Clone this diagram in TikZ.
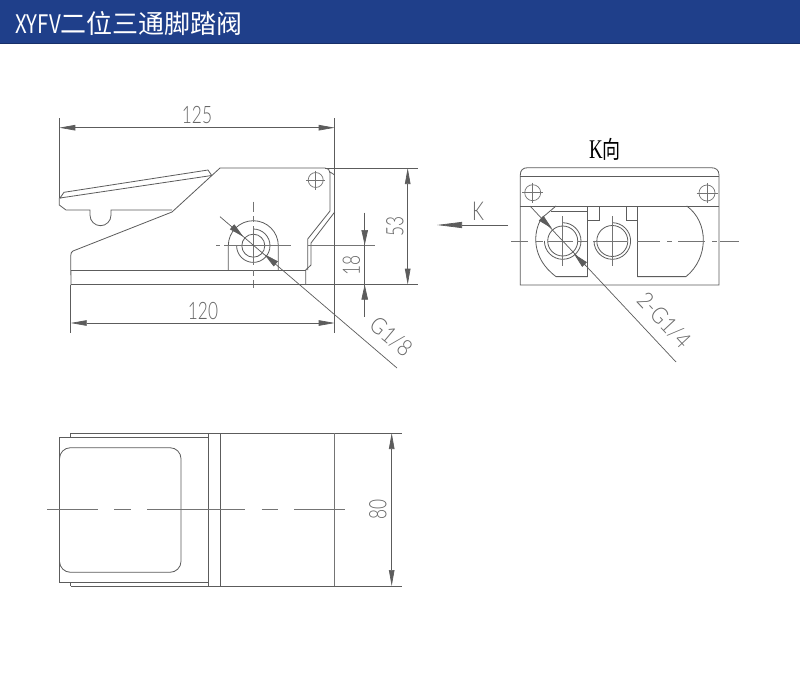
\documentclass[tikz,border=0pt]{standalone}
\usepackage{fontspec}
\usetikzlibrary{arrows.meta}
\newfontfamily\cad[FakeStretch=0.72]{Lato Light}
\newfontfamily\cadwide[FakeStretch=0.88]{Lato Light}
\newfontfamily\cjkhead{Noto Sans CJK SC}
\newfontfamily\headlatin[FakeStretch=0.8]{Noto Sans CJK SC}
\newfontfamily\cjknarrow[FakeStretch=0.75]{Noto Sans CJK SC}
\newfontfamily\kserif[FakeStretch=0.7]{Liberation Serif}
\definecolor{ln}{HTML}{5C5C5C}
\definecolor{txtc}{HTML}{666666}
\definecolor{headblue}{HTML}{1F3F8A}
\tikzset{
  part/.style={draw=ln,line width=0.8pt},
  thin part/.style={draw=ln!85,line width=0.7pt},
  dimline/.style={draw=ln,line width=0.7pt},
  dimboth/.style={dimline,{Triangle[length=16pt,width=5.5pt]}-{Triangle[length=16pt,width=5.5pt]}},
  dimone/.style={dimline,-{Triangle[length=15pt,width=6.5pt]}},
  dimlabel/.style={text=txtc,inner sep=0pt,font=\cad\fontsize{24}{24}\selectfont},
  leaderlabel/.style={text=txtc,inner sep=0pt,font=\cadwide\fontsize{23}{23}\selectfont},
}
\begin{document}
\begin{tikzpicture}[x=1pt,y=-1pt]
\useasboundingbox (0,0) rectangle (800,693);
\fill[white] (0,0) rectangle (800,693);
% header
\fill[headblue] (0,0) rectangle (800,43.5);
\fill[headblue!75!black] (0,42.8) rectangle (800,44.5);
\node[anchor=west,text=white,inner sep=0pt] (title) at (15,24) {\headlatin\fontsize{25.5}{26}\selectfont XYFV\cjkhead\fontsize{26}{26}\selectfont 二位三通脚踏阀};

% ---- side view
% pedal
\draw[part] (59.8,198.3) -- (64,192.3) -- (208,170) -- (211.7,175.5) -- (62,197.7) -- (59.8,198.3);
\draw[part] (59.3,198) -- (59.3,205) -- (66,210) -- (90,210) -- (90,215.2)
  arc[start angle=180,end angle=0,radius=10.5] -- (111,210) -- (172,210);
\draw[part] (71,285) -- (70.7,256) .. controls (70.7,253) and (71.5,252) .. (73,251) -- (172,212) -- (220,168) -- (325,168)
  .. controls (328,168) and (330,170) .. (330,173) -- (330,211) -- (307.7,239) -- (307.7,270);
\draw[part] (330,172) -- (334.7,175);
\draw[part] (334.7,212) -- (311,243) -- (311,265) -- (305.7,270) -- (305.7,284.7);
\draw[part] (70.7,270) -- (305.7,270);
\draw[part] (228.3,270) -- (228.3,245.7) arc[start angle=180,end angle=360,radius=25] -- (278.3,270);
\draw[part] (253.3,245.7) circle[radius=11.5];
\draw[part] (253.3,229) arc[start angle=270,end angle=540,radius=16.7];
% mount hole
\draw[thin part] (315.7,180) circle[radius=7.5];
\draw[thin part] (306,180) -- (325,180) (315.7,170.5) -- (315.7,190);
% centre lines
\draw[thin part] (216,245.3) -- (220,245.3) (224,245.3) -- (290.7,245.3) (307.7,245.3) -- (375,245.3);
\draw[thin part] (253.3,201.7) -- (253.3,212) (253.3,216) -- (253.3,222) (253.3,226) -- (253.3,265) (253.3,270) -- (253.3,276) (253.3,280) -- (253.3,288);
% extension lines
\draw[dimline] (59.3,118) -- (59.3,198);
\draw[dimline] (334.7,118) -- (334.7,333);
\draw[dimline] (70.7,285) -- (70.7,333);
\draw[dimline] (70.7,284.7) -- (418,284.7);
\draw[dimline] (325,168) -- (418,168);
% dimensions
\draw[dimboth] (59.3,127.7) -- (334.7,127.7);
\node[dimlabel] (d125) at (197,115) {125};
\draw[dimboth] (70.7,323) -- (334.7,323);
\node[dimlabel] (d120) at (203,311) {120};
\draw[dimboth] (407.7,168) -- (407.7,284.7);
\node[dimlabel,rotate=90] (d53) at (395,226) {53};
\draw[dimline] (364.7,212.7) -- (364.7,316.7);
\draw[dimone] (364.7,228) -- (364.7,245);
\draw[dimone] (364.7,301) -- (364.7,284.7);
\node[dimlabel,rotate=90] (d18) at (351.5,265) {18};
% G1/8 leader
\draw[dimline] (220,216.7) -- (397,368);
\draw[dimone] (232,226.7) -- (243.3,236.7);
\draw[dimone] (276,264) -- (264.3,254.3);
\node[leaderlabel,rotate=-40] (g18) at (391,337) {G1/8};

% ---- K arrow
\draw[dimline] (508,225) -- (462,225);
\draw[dimline,-{Triangle[length=25pt,width=6pt]}] (462,225) -- (437,225);
\node[dimlabel,font=\cad\fontsize{26}{26}\selectfont] (klabel) at (478,211) {K};
\node[inner sep=0pt,text=black] (kview) at (605,149) {\kserif\fontsize{27}{27}\selectfont K\cjknarrow\fontsize{24}{24}\selectfont 向};

% ---- end view
\draw[part] (520.3,285) -- (520.3,175) .. controls (520.3,170) and (523,167.7) .. (528,167.7) -- (711,167.7)
  .. controls (716,167.7) and (719,170) .. (719,175) -- (719,285) -- cycle;
\draw[part] (520.3,176.7) -- (719,176.7);
\draw[part] (520.3,206) -- (719,206);
\draw[thin part] (532.7,192.7) circle[radius=8];
\draw[thin part] (522,192.7) -- (543,192.7) (532.7,182.7) -- (532.7,202.7);
\draw[thin part] (707,193) circle[radius=8];
\draw[thin part] (696.5,193) -- (717.5,193) (707,183) -- (707,203);
% blocks
\draw[part] (556,206) -- (541.5,218.3) .. controls (533,232) and (531,258) .. (556,276.6) -- (587.7,276.6);
\draw[part] (551,211.7) -- (587.7,211.7);
\draw[part] (587.7,206) -- (587.7,276.6);
\draw[part] (587.7,220.7) -- (599.7,220.7) -- (599.7,206);
\draw[part] (626,206) -- (626,220.7) -- (637.3,220.7);
\draw[part] (637.3,206) -- (637.3,276.6);
\draw[part] (637.3,276.6) -- (686,276.6) .. controls (709,258) and (709,222) .. (686.7,206);
% ports
\draw[part] (562.7,241) circle[radius=15];
\draw[part] (562.7,222.7) arc[start angle=270,end angle=540,radius=18.3];
\draw[part] (612.3,241) circle[radius=15.5];
\draw[part] (612.3,222.7) arc[start angle=270,end angle=540,radius=18.3];
\draw[thin part] (562.7,216) -- (562.7,266) (612.3,216) -- (612.3,266);
% centre line
\draw[thin part] (511,241) -- (528,241) (536,241) -- (543,241) (548,241) -- (573,241) (578,241) -- (587,241)
  (593,241) -- (627,241) (637,241) -- (660,241) (667,241) -- (672,241) (678,241) -- (705,241) (712,241) -- (717,241) (720,241) -- (739,241);
% 2-G1/4 leader
\draw[dimline] (530,206) -- (676,362);
\draw[dimone] (541,218) -- (552,228.5);
\draw[dimone] (585.7,265.7) -- (574,254);
\node[leaderlabel,rotate=-47] (g14) at (664,320) {2-G1/4};

% ---- top view
\draw[part] (70.7,433.3) -- (70.7,437) -- (59,437) -- (59,582) -- (70.7,582) -- (70.7,586);
\draw[part] (59,437) -- (208.3,437) (59,582) -- (208.3,582);
\draw[part] (70.7,433) -- (401.7,433);
\draw[part] (70.7,586) -- (401.7,586);
\draw[part] (208.3,433) -- (208.3,586);
\draw[part] (220,433) -- (220,586);
\draw[thin part] (334.7,433) -- (334.7,586);
\draw[part,rounded corners=11pt] (59.5,447.7) rectangle (181,572.3);
\draw[thin part] (47.3,509.7) -- (97.7,509.7) (114.3,509.7) -- (131,509.7) (147.3,509.7) -- (245,509.7) (261.7,509.7) -- (278.3,509.7) (294.3,509.7) -- (345,509.7);
\draw[dimboth] (391.7,433) -- (391.7,586);
\node[dimlabel,rotate=90] (d80) at (378,509) {80};
\end{tikzpicture}
\end{document}
